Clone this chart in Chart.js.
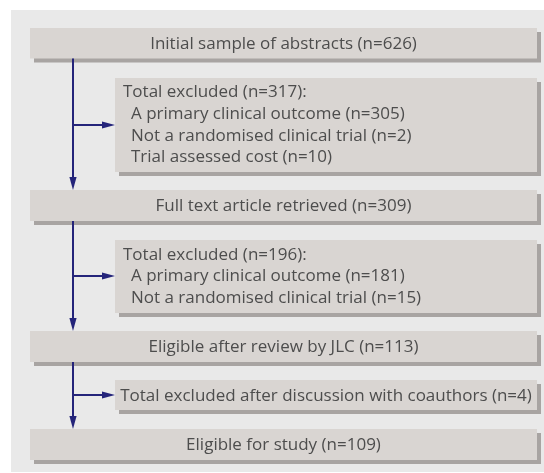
<!DOCTYPE html>
<html>
<head>
<meta charset="utf-8">
<script src="https://cdn.jsdelivr.net/npm/chart.js@4.4.1/dist/chart.umd.min.js"></script>
<style>
  html, body { margin: 0; padding: 0; background: #ffffff; }
  #wrap { width: 544px; height: 473px; }
</style>
</head>
<body>
<div id="wrap"><canvas id="c" width="544" height="473"></canvas></div>
<script>
// ---- DATA ----
const stepLabels = ["Initial sample of abstracts", "Full text article retrieved", "Eligible after review by JLC", "Eligible for study"];
const stepCounts = [626, 309, 113, 109];
const exclusionTitles = ["Total excluded", "Total excluded", "Total excluded after discussion with coauthors"];
const exclusionCounts = [317, 196, 4];
const exclusionReasons = [
  ["A primary clinical outcome", "Not a randomised clinical trial", "Trial assessed cost"],
  ["A primary clinical outcome", "Not a randomised clinical trial"],
  []
];
const exclusionReasonCounts = [[305, 2, 10], [181, 15], []];

// ---- LAYOUT (canvas units, scales map 1:1) ----
const panel = { left: 11, right: 544, top: 10, bottom: 472 };
const stepLeft = 30, stepRight = 537;
const stepTop = [28, 190, 331, 429];
const stepBottom = [58.5, 221, 362, 460];
const exclLeft = 115, exclRight = 537;
const exclTop = [78, 240, 380];
const exclBottom = [172, 313, 410];
const exclArrowY = [125, 276, 395];
const trunkX = 73;
const textLeftPad = 8, reasonIndent = 8, lineGap = 21.7;
const shadowOff = 4;

const C = {
  panel: '#e9e9e9', box: '#d9d5d2', shadow: '#a8a4a2', text: '#4d4d4d', arrow: '#24247a'
};
const FONT = '17px "Open Sans", "Noto Sans", sans-serif';

// line datasets: trunk segments and branches
const datasets = [];
for (let i = 0; i < exclusionTitles.length; i++) {
  datasets.push({
    data: [{ x: trunkX, y: stepBottom[i] }, { x: trunkX, y: stepTop[i + 1] - 10 }],
    showLine: true, borderColor: C.arrow, borderWidth: 2, pointRadius: 0, fill: false
  });
  datasets.push({
    data: [{ x: trunkX, y: exclArrowY[i] }, { x: exclLeft - 10, y: exclArrowY[i] }],
    showLine: true, borderColor: C.arrow, borderWidth: 2, pointRadius: 0, fill: false
  });
}

const flowPlugin = {
  id: 'flow',
  beforeDatasetsDraw(chart) {
    const { ctx, scales: { x, y } } = chart;
    const px = v => x.getPixelForValue(v), py = v => y.getPixelForValue(v);
    ctx.save();
    ctx.fillStyle = C.panel;
    ctx.fillRect(px(panel.left), py(panel.top), px(panel.right) - px(panel.left), py(panel.bottom) - py(panel.top));
    function box(l, r, t, b) {
      ctx.fillStyle = C.shadow;
      ctx.fillRect(px(l) + shadowOff, py(t) + shadowOff, px(r) - px(l), py(b) - py(t));
      ctx.fillStyle = C.box;
      ctx.fillRect(px(l), py(t), px(r) - px(l), py(b) - py(t));
    }
    ctx.font = FONT;
    ctx.textBaseline = 'middle';
    for (let i = 0; i < stepLabels.length; i++) {
      box(stepLeft, stepRight, stepTop[i], stepBottom[i]);
      ctx.fillStyle = C.text;
      ctx.textAlign = 'center';
      ctx.fillText(stepLabels[i] + ' (n=' + stepCounts[i] + ')', (px(stepLeft) + px(stepRight)) / 2, (py(stepTop[i]) + py(stepBottom[i])) / 2 + 1);
    }
    for (let i = 0; i < exclusionTitles.length; i++) {
      box(exclLeft, exclRight, exclTop[i], exclBottom[i]);
      ctx.fillStyle = C.text;
      const reasons = exclusionReasons[i];
      if (reasons.length === 0) {
        ctx.textAlign = 'center';
        ctx.fillText(exclusionTitles[i] + ' (n=' + exclusionCounts[i] + ')', (px(exclLeft) + px(exclRight)) / 2, (py(exclTop[i]) + py(exclBottom[i])) / 2 + 1);
      } else {
        ctx.textAlign = 'left';
        const n = reasons.length + 1;
        const mid = (py(exclTop[i]) + py(exclBottom[i])) / 2;
        const first = mid - (n - 1) * lineGap / 2;
        ctx.fillText(exclusionTitles[i] + ' (n=' + exclusionCounts[i] + '):', px(exclLeft) + textLeftPad, first);
        reasons.forEach((r, k) => {
          ctx.fillText(r + ' (n=' + exclusionReasonCounts[i][k] + ')', px(exclLeft) + textLeftPad + reasonIndent, first + (k + 1) * lineGap);
        });
      }
    }
    ctx.restore();
  },
  afterDatasetsDraw(chart) {
    const { ctx, scales: { x, y } } = chart;
    const px = v => x.getPixelForValue(v), py = v => y.getPixelForValue(v);
    ctx.save();
    ctx.fillStyle = C.arrow;
    const L = 13, W = 3.6;
    for (let i = 0; i < exclusionTitles.length; i++) {
      const tx = px(trunkX), ty = py(stepTop[i + 1]);
      ctx.beginPath();
      ctx.moveTo(tx, ty);
      ctx.lineTo(tx - W, ty - L);
      ctx.lineTo(tx + W, ty - L);
      ctx.closePath();
      ctx.fill();
      const rx = px(exclLeft), ry = py(exclArrowY[i]);
      ctx.beginPath();
      ctx.moveTo(rx, ry);
      ctx.lineTo(rx - L, ry - W);
      ctx.lineTo(rx - L, ry + W);
      ctx.closePath();
      ctx.fill();
    }
    ctx.restore();
  }
};

new Chart(document.getElementById('c'), {
  type: 'scatter',
  data: { datasets },
  options: {
    responsive: false,
    animation: false,
    events: [],
    layout: { padding: 0 },
    plugins: { legend: { display: false }, tooltip: { enabled: false } },
    scales: {
      x: { type: 'linear', min: 0, max: 544, display: false },
      y: { type: 'linear', min: 0, max: 473, reverse: true, display: false }
    }
  },
  plugins: [flowPlugin]
});
</script>
</body>
</html>
